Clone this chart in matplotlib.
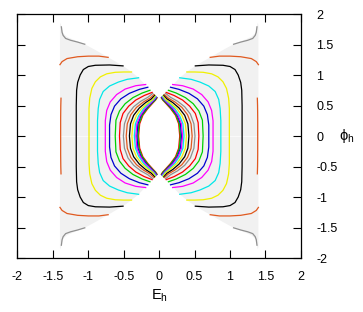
import matplotlib.pyplot as plt
import numpy as np

plt.rcParams['font.family'] = ['Liberation Sans', 'DejaVu Sans']
plt.rcParams['mathtext.fontset'] = 'dejavusans'

# contours in the upper-right quadrant, (E_h, phi_h),
# from phi = 0 up to where they meet the edge of the domain; inner -> outer
red1 = [(0.29, 0), (0.275, 0.2), (0.23, 0.34), (0.16, 0.45), (0.09, 0.54), (0.05, 0.59), (0.03, 0.625)]
green1 = [(0.30, 0), (0.285, 0.2), (0.24, 0.34), (0.17, 0.45), (0.10, 0.54), (0.055, 0.59), (0.033, 0.63)]
blue1 = [(0.315, 0), (0.30, 0.2), (0.255, 0.34), (0.185, 0.45), (0.11, 0.54), (0.065, 0.595), (0.037, 0.635)]
magenta1 = [(0.33, 0), (0.315, 0.2), (0.27, 0.33), (0.20, 0.45), (0.12, 0.54), (0.07, 0.60), (0.042, 0.64)]
cyan1 = [(0.35, 0), (0.335, 0.2), (0.29, 0.33), (0.22, 0.45), (0.14, 0.54), (0.08, 0.60), (0.048, 0.65)]
yellow1 = [(0.385, 0), (0.37, 0.2), (0.32, 0.34), (0.25, 0.45), (0.16, 0.54), (0.09, 0.60), (0.055, 0.66)]
black1 = [(0.42, 0), (0.405, 0.2), (0.36, 0.34), (0.28, 0.46), (0.19, 0.55), (0.11, 0.61), (0.065, 0.67)]
orange1 = [(0.465, 0), (0.45, 0.2), (0.40, 0.35), (0.32, 0.47), (0.22, 0.56), (0.13, 0.62), (0.075, 0.68)]
gray1 = [(0.505, 0), (0.49, 0.2), (0.44, 0.36), (0.36, 0.48), (0.26, 0.57), (0.16, 0.635), (0.09, 0.70)]
red2 = [(0.56, 0), (0.55, 0.22), (0.51, 0.37), (0.43, 0.49), (0.33, 0.59), (0.21, 0.665), (0.10, 0.715)]
green2 = [(0.62, 0), (0.61, 0.26), (0.56, 0.41), (0.48, 0.53), (0.37, 0.63), (0.24, 0.705), (0.13, 0.75)]
blue2 = [(0.70, 0), (0.70, 0.18), (0.68, 0.35), (0.63, 0.49), (0.54, 0.61), (0.42, 0.70), (0.28, 0.765), (0.16, 0.80)]
magenta2 = [(0.76, 0), (0.76, 0.25), (0.74, 0.42), (0.69, 0.56), (0.60, 0.68), (0.48, 0.77), (0.33, 0.825), (0.19, 0.845)]
cyan2 = [(0.87, 0), (0.87, 0.25), (0.86, 0.45), (0.84, 0.60), (0.79, 0.73), (0.70, 0.82), (0.575, 0.885), (0.45, 0.93), (0.29, 0.955)]
yellow2 = [(0.99, 0), (0.99, 0.45), (0.98, 0.62), (0.95, 0.78), (0.90, 0.89), (0.83, 0.97), (0.74, 1.02),
           (0.62, 1.045), (0.50, 1.05), (0.39, 1.05)]
black2 = [(1.17, 0), (1.17, 0.5), (1.165, 0.75), (1.15, 0.88), (1.115, 1.0), (1.07, 1.09), (1.0, 1.14),
          (0.90, 1.16), (0.70, 1.165), (0.51, 1.15)]
orange2_side = [(1.39, 0), (1.39, 0.3), (1.388, 0.5), (1.385, 0.62)]
orange2_top = [(1.40, 1.17), (1.37, 1.22), (1.30, 1.27), (1.15, 1.30), (1.0, 1.31), (0.85, 1.31), (0.72, 1.29)]
gray2 = [(1.38, 1.79), (1.37, 1.70), (1.355, 1.65), (1.32, 1.60), (1.25, 1.57), (1.15, 1.54), (1.05, 1.505)]

# edge of the shaded domain, upper-right, from the inner tip out to the corner
domain_edge = [(0.03, 0.625), (0.06, 0.665), (0.12, 0.74), (0.20, 0.845), (0.29, 0.955), (0.40, 1.06),
               (0.51, 1.15), (0.72, 1.29), (0.90, 1.41), (1.05, 1.505), (1.20, 1.575), (1.30, 1.625),
               (1.35, 1.68), (1.375, 1.76), (1.39, 1.86), (1.40, 1.82), (1.40, 0)]

through_axis = [red1, green1, blue1, magenta1, cyan1, yellow1, black1, orange1, gray1,
                red2, green2, blue2, magenta2, cyan2, yellow2, black2, orange2_side]
through_colors = ['#ff0000', '#00d000', '#0000d0', '#ff00ff', '#00e8e8', '#f0f000', '#000000', '#e05a20', '#909090'] * 2
corner_pieces = [orange2_top, gray2]
corner_colors = ['#e05a20', '#909090']

xticks = [-2, -1.5, -1, -0.5, 0, 0.5, 1, 1.5, 2]
yticks = [-2, -1.5, -1, -0.5, 0, 0.5, 1, 1.5, 2]


def mirrored(pts):
    e = np.array([p[0] for p in pts])
    f = np.array([p[1] for p in pts])
    # lower half reversed + upper half -> one line through phi = 0
    ee = np.concatenate([e[::-1], e[1:]])
    ff = np.concatenate([-f[::-1], f[1:]])
    return ee, ff


fig = plt.figure(figsize=(3.63, 3.12), dpi=100)
ax = fig.add_axes([0.048, 0.173, 0.781, 0.782])

# shaded domain
e_half = np.array([p[0] for p in red1] + [p[0] for p in domain_edge])
f_half = np.array([p[1] for p in red1] + [p[1] for p in domain_edge])
e_poly = np.concatenate([e_half, e_half[::-1]])
f_poly = np.concatenate([f_half, -f_half[::-1]])
for s in (1, -1):
    ax.fill(s * e_poly, f_poly, color='#f1f1f1', lw=0, zorder=1)
# faint seam along phi = 0
ax.axhline(0, color='white', lw=0.6, alpha=0.7, zorder=1.5)

for pts, c in zip(through_axis, through_colors):
    ee, ff = mirrored(pts)
    for s in (1, -1):
        ax.plot(s * ee, ff, color=c, lw=0.9, zorder=2)

for pts, c in zip(corner_pieces, corner_colors):
    e = np.array([p[0] for p in pts])
    f = np.array([p[1] for p in pts])
    for s in (1, -1):
        for t in (1, -1):
            ax.plot(s * e, t * f, color=c, lw=0.9, zorder=2)

ax.set_xlim(-2, 2)
ax.set_ylim(-2, 2)
ax.set_xticks(xticks)
ax.set_yticks(yticks)
ax.set_xticklabels(['%g' % v for v in xticks])
ax.set_yticklabels(['%g' % v for v in yticks])
ax.tick_params(direction='in', length=6, width=0.8, top=True, right=True, left=True,
               labelleft=False, labelright=True, labelsize=9)
ax.tick_params(axis='x', pad=9)
ax.tick_params(axis='y', pad=11)
for sp in ax.spines.values():
    sp.set_linewidth(0.9)

ax.set_xlabel(r'$\mathregular{E_h}$', fontsize=10.5, labelpad=4)
ax.yaxis.set_label_position('right')
ax.set_ylabel(r'$\mathregular{\phi_h}$', fontsize=10.5, rotation=0, labelpad=7, va='center')

fig.savefig('out.png', dpi=100)
